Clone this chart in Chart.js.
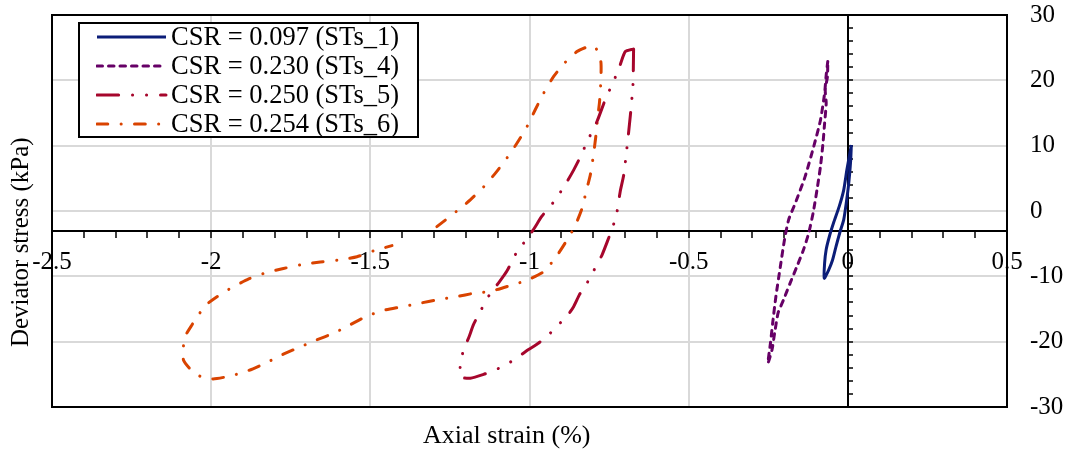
<!DOCTYPE html>
<html>
<head>
<meta charset="utf-8">
<script src="https://cdn.jsdelivr.net/npm/chart.js@4.4.1/dist/chart.umd.min.js"></script>
<style>
  html, body { margin: 0; padding: 0; background: #fff; }
  #wrap { position: relative; width: 1073px; height: 452px; }
  #legend {
    position: absolute; left: 78px; top: 22px; width: 337px; height: 112px;
    border: 2px solid #000; background: #fff;
    font-family: 'Liberation Serif', 'Times New Roman', serif; font-size: 26.5px; color: #000;
  }
  .row { position: absolute; left: 0; height: 29px; line-height: 29px; white-space: nowrap; }
  .row svg { position: absolute; left: 16px; top: 0; }
  .row span { position: absolute; left: 91px; top: 0; }
</style>
</head>
<body>
<div id="wrap">
  <canvas id="chart" width="1073" height="452"></canvas>
  <div id="legend"></div>
</div>
<script>
// --- DATA (axial strain %, deviator stress kPa) ---
const strainSTs1 = [0.011, -0.003, -0.013, -0.027, -0.045, -0.058, -0.068, -0.073, -0.074, -0.060, -0.048, -0.037, -0.024, -0.013, -0.005, 0.003, 0.009, 0.011];
const stressSTs1 = [10.1, 6.3, 3.2, 0.7, -1.85, -3.9, -5.9, -8.0, -10.3, -9.0, -7.5, -5.4, -3.1, -1.35, 1.2, 4.3, 7.8, 10.1];

const strainSTs4 = [-0.063, -0.068, -0.073, -0.086, -0.107, -0.134, -0.165, -0.186, -0.199, -0.212, -0.226, -0.236, -0.243, -0.251,
  -0.238, -0.230, -0.219, -0.202, -0.181, -0.160, -0.139, -0.123, -0.109, -0.097, -0.086, -0.078, -0.073, -0.068, -0.071, -0.064, -0.063];
const stressSTs4 = [22.9, 20.8, 18.0, 13.9, 9.9, 5.3, 1.2, -1.35, -4.4, -8.5, -13.1, -17.1, -20.2, -23.3,
  -21.2, -18.7, -15.6, -13.6, -11.0, -8.5, -5.9, -3.4, -0.3, 3.2, 6.8, 10.4, 13.4, 16.5, 18.5, 20.6, 22.9];

const strainSTs5 = [-0.673, -0.675, -0.683, -0.694, -0.704, -0.715, -0.725, -0.738, -0.751, -0.772, -0.799, -0.819, -0.843, -0.861,
  -0.882, -0.909, -0.935, -0.971, -1.003, -1.029, -1.066, -1.102, -1.144, -1.186, -1.217, -1.217, -1.207, -1.191, -1.176, -1.155,
  -1.123, -1.097, -1.071, -1.039, -1.010, -0.987, -0.961, -0.919, -0.882, -0.861, -0.840, -0.819, -0.788, -0.760, -0.736, -0.715, -0.699, -0.673];
const stressSTs5 = [24.8, 19.3, 14.7, 9.6, 5.5, 3.0, -0.1, -2.4, -4.1, -6.7, -9.2, -11.0, -12.8, -14.6,
  -16.1, -17.4, -18.7, -20.2, -21.2, -22.1, -23.3, -24.2, -25.0, -25.6, -25.4, -23.5, -21.2, -19.4, -17.4, -15.4,
  -12.6, -11.0, -9.2, -6.2, -4.4, -2.8, -0.8, 1.7, 4.5, 6.3, 8.3, 10.6, 13.7, 17.3, 19.8, 22.4, 24.4, 24.8];

const strainSTs6 = [-1.291, -1.228, -1.186, -1.144, -1.107, -1.071, -1.039, -1.008, -0.982, -0.956, -0.924, -0.891, -0.851, -0.819, -0.795,
  -0.776, -0.776, -0.780, -0.786, -0.791, -0.799, -0.809, -0.822, -0.835, -0.858, -0.888, -0.919, -0.956, -1.008, -1.060, -1.123,
  -1.176, -1.228, -1.291, -1.343, -1.406, -1.458, -1.511, -1.563, -1.615, -1.672, -1.725, -1.777, -1.830, -1.882, -1.935, -1.994,
  -2.034, -2.060, -2.087, -2.087, -2.082, -2.060, -2.040, -2.014, -1.984, -1.945, -1.882, -1.825, -1.773, -1.715, -1.657, -1.600,
  -1.542, -1.484, -1.432];
const stressSTs6 = [-2.4, 0.0, 1.7, 3.7, 5.8, 8.1, 10.4, 12.9, 15.5, 18.0, 20.6, 22.6, 24.4, 25.1, 25.2,
  22.9, 19.8, 16.7, 14.2, 11.7, 8.6, 5.5, 3.0, 0.4, -2.4, -4.9, -7.2, -9.3, -10.6, -11.4, -12.3,
  -12.6, -13.1, -13.6, -14.1, -14.7, -15.2, -16.1, -17.4, -18.7, -19.8, -20.9, -22.0, -23.3, -24.4, -25.2, -25.7,
  -25.3, -24.5, -22.8, -20.7, -19.2, -17.4, -15.9, -14.3, -13.2, -12.0, -10.4, -9.4, -8.8, -8.2, -7.8, -7.5,
  -7.0, -6.0, -5.3];

const seriesLabels = ['CSR = 0.097 (STs_1)', 'CSR = 0.230 (STs_4)', 'CSR = 0.250 (STs_5)', 'CSR = 0.254 (STs_6)'];
const seriesStrain = [strainSTs1, strainSTs4, strainSTs5, strainSTs6];
const seriesStress = [stressSTs1, stressSTs4, stressSTs5, stressSTs6];

// axis tick labels
const strainLabels = [-2.5, -2, -1.5, -1, -0.5, 0, 0.5];
const stressLabels = [-30, -20, -10, 0, 10, 20, 30];

// --- STYLES ---
const seriesColors = ['#0B1D78', '#660066', '#A6062C', '#D94300'];
const seriesDashes = [[], [5.5, 6], [21.6, 13.9, 0.1, 13.9, 0.1, 13.9], [10.8, 13.3, 0.1, 13.3]];
const seriesCaps = ['butt', 'round', 'round', 'round'];

const FONT = "'Liberation Serif', 'Times New Roman', serif";
Chart.defaults.font.family = FONT;
Chart.defaults.color = '#000';

const isMajorStrain = v => strainLabels.some(m => Math.abs(m - v) < 1e-6);
const isMajorStress = v => stressLabels.some(m => Math.abs(m - v) < 1e-6);

const datasets = seriesLabels.map((label, i) => ({
    label: label,
    data: seriesStrain[i].map((x, j) => ({ x: x, y: seriesStress[i][j] })),
    showLine: true,
    borderColor: seriesColors[i],
    backgroundColor: seriesColors[i],
    borderWidth: 3,
    borderDash: seriesDashes[i],
    borderCapStyle: seriesCaps[i],
    borderJoinStyle: 'round',
    pointRadius: 0,
    tension: 0.2,
    fill: false,
    xAxisID: 'x',
    yAxisID: 'y'
}));

const frameBorder = { display: true, color: '#000', width: 2 };
const noGrid = { drawOnChartArea: false, drawTicks: false };

new Chart(document.getElementById('chart').getContext('2d'), {
    type: 'scatter',
    data: { datasets: datasets },
    options: {
        responsive: false,
        animation: false,
        devicePixelRatio: 1,
        layout: { padding: 0 },
        plugins: { legend: { display: false }, tooltip: { enabled: false } },
        scales: {
            x: {
                type: 'linear', min: -2.5, max: 0.5, position: { y: -3 },
                afterFit: s => { s.height = 0; s.paddingLeft = 0; s.paddingRight = 0; },
                border: { display: true, color: '#000', width: 2 },
                grid: {
                    color: c => (c.tick && isMajorStrain(c.tick.value)) ? '#d9d9d9' : 'rgba(0,0,0,0)',
                    lineWidth: 2, tickColor: '#000', tickLength: 6, tickWidth: 1.5
                },
                ticks: {
                    stepSize: 0.1, autoSkip: false, maxRotation: 0, padding: 10.5,
                    font: { size: 25 }, color: '#000',
                    callback: v => isMajorStrain(v) ? String(Math.round(v * 10) / 10) : ''
                }
            },
            y: {
                type: 'linear', min: -30, max: 30, position: { x: 0 },
                afterFit: s => { s.width = 0; s.paddingTop = 0; s.paddingBottom = 0; },
                border: { display: true, color: '#000', width: 2 },
                grid: {
                    color: c => (c.tick && isMajorStress(c.tick.value)) ? '#d9d9d9' : 'rgba(0,0,0,0)',
                    lineWidth: 2, tickColor: '#000', tickLength: -6, tickWidth: 1.5
                },
                ticks: { display: false, stepSize: 2, autoSkip: false }
            },
            xTop: {
                type: 'linear', min: -2.5, max: 0.5, position: 'top',
                afterFit: s => { s.height = 15; },
                border: frameBorder, grid: noGrid, ticks: { display: false }
            },
            xBottom: {
                type: 'linear', min: -2.5, max: 0.5, position: 'bottom',
                afterFit: s => { s.height = 45; },
                border: frameBorder, grid: noGrid, ticks: { display: false },
                title: {
                    display: true, text: 'Axial strain (%)       ',
                    font: { size: 26 }, color: '#000', padding: { top: 0, bottom: 0 }
                }
            },
            yLeft: {
                type: 'linear', min: -30, max: 30, position: 'left',
                afterFit: s => { s.width = 52; },
                border: frameBorder, grid: noGrid, ticks: { display: false },
                title: {
                    display: true, text: 'Deviator stress (kPa)          ',
                    font: { size: 25 }, color: '#000', padding: { top: 6, bottom: 0 }
                }
            },
            yR: {
                type: 'linear', min: -30, max: 30, position: 'right',
                afterFit: s => { s.width = 66; s.paddingTop = 0; s.paddingBottom = 0; },
                border: frameBorder, grid: noGrid,
                ticks: { stepSize: 10, padding: 23, font: { size: 25 }, color: '#000' }
            }
        }
    }
});

// --- HTML legend built from the same series ---
const legendEl = document.getElementById('legend');
seriesLabels.forEach((label, i) => {
    const row = document.createElement('div');
    row.className = 'row';
    row.style.top = (-2 + i * 29) + 'px';
    const dash = seriesDashes[i].length ? seriesDashes[i].join(' ') : 'none';
    row.innerHTML =
        '<svg width="72" height="29"><line x1="1" y1="15" x2="70" y2="15" stroke="' + seriesColors[i] +
        '" stroke-width="3" stroke-linecap="' + seriesCaps[i] + '" stroke-dasharray="' + dash + '"/></svg>' +
        '<span>' + label + '</span>';
    legendEl.appendChild(row);
});
</script>
</body>
</html>
